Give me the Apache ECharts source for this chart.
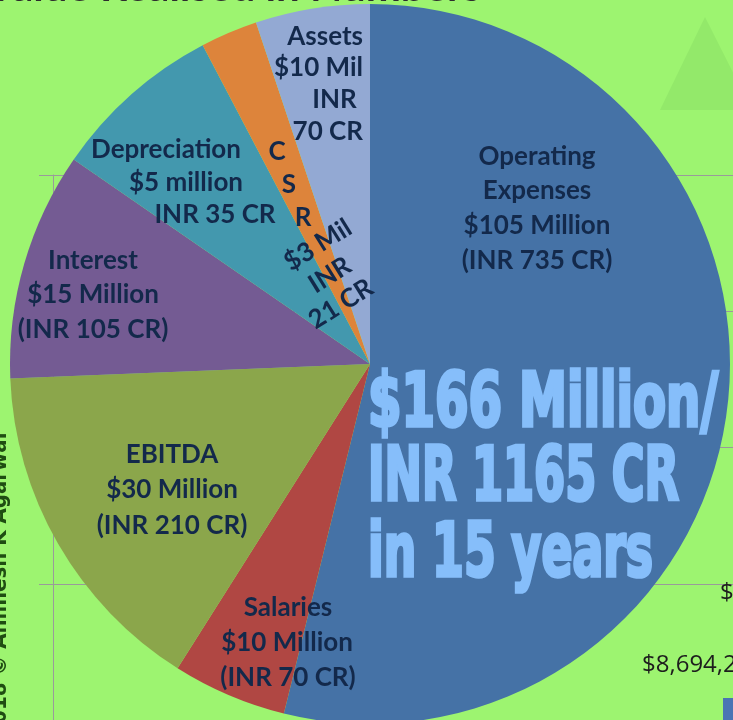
<!DOCTYPE html>
<html>
<head>
<meta charset="UTF-8">
<title>Project cost split</title>
<script src="https://cdn.jsdelivr.net/npm/echarts@6/dist/echarts.min.js"></script>
<style>
  html, body { margin: 0; padding: 0; background: #9df470; }
  #chartmain { width: 733px; height: 720px; }
</style>
</head>
<body>
<div id="chartmain"></div>
<script>
// slice data (sizes)
var categories = ['Operating Expenses', 'Salaries', 'EBITDA', 'Interest', 'Depreciation', 'CSR', 'Assets'];
var values = [105, 10, 30, 20, 15, 5, 10];
var colors = ['#4572a6', '#b04743', '#8ba64b', '#745b93', '#4398ae', '#dd843b', '#93a9d3'];

// text written on each slice
var sliceText = [
    ['Operating', 'Expenses', '$105 Million', '(INR 735 CR)'],
    ['Salaries', '$10 Million', '(INR 70 CR)'],
    ['EBITDA', '$30 Million', '(INR 210 CR)'],
    ['Interest', '$15 Million', '(INR 105 CR)'],
    ['Depreciation', '$5 million', 'INR 35 CR'],
    ['C', 'S', 'R', '$3 Mil', 'INR', '21 CR'],
    ['Assets', '$10 Mil', 'INR ', '70 CR']
];
var bigText = ['$166 Million/', 'INR 1165 CR', 'in 15 years'];
var sideNote = '2018 \u00a9 Animesh K Agarwal';
var backLabels = ['$', '$8,694,2'];

// where each text line goes: [x, y, align, rotation(deg)]
var textLayout = [
    [[537, 157, 'center'], [537, 191, 'center'], [537, 226, 'center'], [537, 261, 'center']],
    [[288, 608, 'center'], [287, 643, 'center'], [288, 678, 'center']],
    [[172, 455, 'center'], [172, 490, 'center'], [172, 526, 'center']],
    [[93, 261, 'center'], [93, 295, 'center'], [93, 330, 'center']],
    [[166, 150, 'center'], [186, 183, 'center'], [215, 215, 'center']],
    [[277, 152, 'center'], [289, 185, 'center'], [303, 218, 'center'], [318, 245, 'center', 32], [330, 275, 'center', 32], [341, 304, 'center', 32]],
    [[363, 37, 'right'], [363, 68, 'right'], [363, 100, 'right'], [363, 132, 'right']]
];
// headline lines: left x, middle y, width to fill
var bigLayout = [[368, 407, 350], [368, 481, 311], [368, 557, 285]];
var bigFont = 'bold 62px "Liberation Sans Narrow", "DejaVu Sans Condensed", sans-serif';

var mychart = echarts.init(document.getElementById('chartmain'), null, { renderer: 'canvas' });

var pieData = [];
for (var i = 0; i < categories.length; i++) {
    pieData.push({ name: categories[i], value: values[i], itemStyle: { color: colors[i] } });
}

var graphics = [];
// cut-off heading at the very top
graphics.push({
    type: 'text', x: -14, y: 8, z: 1,
    style: { text: 'Value Realised in Numbers', font: 'bold 42px Lato', fill: '#2d2d2d', textVerticalAlign: 'bottom' }
});
// faint triangle top right
graphics.push({
    type: 'polygon', z: 1,
    shape: { points: [[705, 17], [660, 110], [752, 110]] },
    style: { fill: '#93e96a' }
});
// axis labels of the chart behind
graphics.push({ type: 'text', x: 720, y: 593, z: 1, style: { text: backLabels[0], font: '24px "Open Sans"', fill: '#1d1d1d', textVerticalAlign: 'middle' } });
graphics.push({ type: 'text', x: 642, y: 665, z: 1, style: { text: backLabels[1], font: '24px "Open Sans"', fill: '#1d1d1d', textVerticalAlign: 'middle' } });
graphics.push({ type: 'rect', z: 1, shape: { x: 723, y: 698, width: 20, height: 30 }, style: { fill: '#4a74b4' } });
// rotated note on the left edge
graphics.push({
    type: 'text', x: 0, y: 585, rotation: Math.PI / 2, z: 1,
    style: { text: sideNote, font: 'bold 22px "DejaVu Sans Condensed"', fill: '#1f4d12', textAlign: 'center', textVerticalAlign: 'middle' }
});

// slice texts
for (var s = 0; s < sliceText.length; s++) {
    for (var l = 0; l < sliceText[s].length; l++) {
        var p = textLayout[s][l];
        graphics.push({
            type: 'text', x: p[0], y: p[1], z: 10,
            rotation: (p[3] || 0) * Math.PI / 180,
            style: {
                text: sliceText[s][l], font: 'bold 26px Lato', fill: '#13294b',
                textAlign: p[2], textVerticalAlign: 'middle'
            }
        });
    }
}

// big headline over the blue slice, squeezed to the width it takes in the picture
var ctx = document.createElement('canvas').getContext('2d');
ctx.font = bigFont;
for (var b = 0; b < bigText.length; b++) {
    var w = ctx.measureText(bigText[b]).width;
    graphics.push({
        type: 'text', x: bigLayout[b][0], y: bigLayout[b][1], z: 11,
        scaleX: bigLayout[b][2] / w, scaleY: 1.2,
        style: {
            text: bigText[b], font: bigFont,
            fill: '#86befa', stroke: '#86befa', lineWidth: 3,
            shadowColor: 'rgba(16,32,58,0.95)', shadowBlur: 1, shadowOffsetX: -2, shadowOffsetY: -2,
            textAlign: 'left', textVerticalAlign: 'middle'
        }
    });
}

var myoption = {
    backgroundColor: '#9df470',
    animation: false,
    grid: { left: 53, top: 175, right: 0, height: 641 },
    xAxis: { type: 'value', show: false, min: 0, max: 1 },
    yAxis: {
        type: 'value', min: 0, max: 4, interval: 1, inverse: true,
        axisLine: { show: true, lineStyle: { color: '#9a9a9a', width: 1 } },
        axisTick: { show: true, length: 14, lineStyle: { color: '#9a9a9a' } },
        axisLabel: { show: false },
        splitLine: { show: true, lineStyle: { color: '#9a9a9a', width: 1 } }
    },
    series: [
        {
            name: 'cost split',
            type: 'pie',
            center: [370, 364],
            radius: 360,
            startAngle: 90,
            clockwise: true,
            avoidLabelOverlap: false,
            label: { show: false },
            labelLine: { show: false },
            emphasis: { disabled: true },
            itemStyle: { borderWidth: 0 },
            z: 5,
            data: pieData
        }
    ],
    graphic: graphics
};
mychart.setOption(myoption);
</script>
</body>
</html>
